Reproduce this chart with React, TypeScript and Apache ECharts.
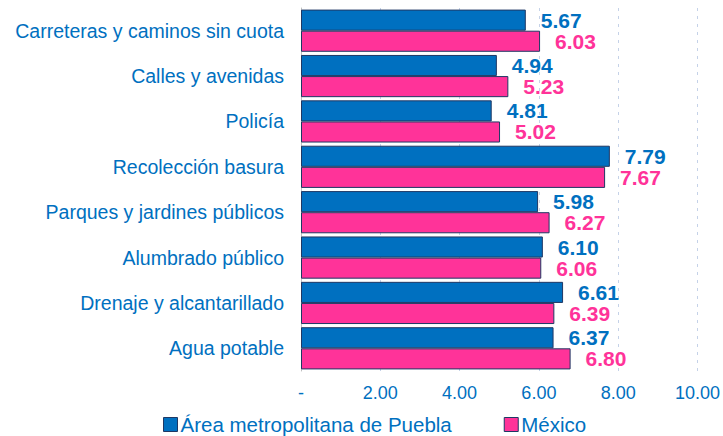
import React, { useEffect, useRef } from "react";
import * as echarts from "echarts";

const categories = [
  "Carreteras y caminos sin cuota",
  "Calles y avenidas",
  "Policía",
  "Recolección basura",
  "Parques y jardines públicos",
  "Alumbrado público",
  "Drenaje y alcantarillado",
  "Agua potable",
];
const pueblaValues = [5.67, 4.94, 4.81, 7.79, 5.98, 6.1, 6.61, 6.37];
const mexicoValues = [6.03, 5.23, 5.02, 7.67, 6.27, 6.06, 6.39, 6.8];
const seriesNames = ["Área metropolitana de Puebla", "México"];

const BLUE = "#0070C0";
const PINK = "#FF3399";
const BORDER = "#1F3864";
const FONT = "'Liberation Sans', Arial, sans-serif";

export default function App() {
  const ref = useRef<HTMLDivElement>(null);
  useEffect(() => {
    if (!ref.current) return;
    const chart = echarts.init(ref.current, undefined, { renderer: "svg" });
    const mkSeries = (name: string, data: number[], color: string) => ({
      name,
      type: "bar",
      data,
      barGap: "0%",
      barCategoryGap: "7%",
      itemStyle: { color, borderColor: BORDER, borderWidth: 1 },
      label: {
        show: true,
        position: "right",
        distance: 15,
        color,
        fontFamily: FONT,
        fontWeight: "bold",
        fontSize: 21,
        formatter: (p: any) => Number(p.value).toFixed(2),
      },
    });
    chart.setOption({
      animation: false,
      textStyle: { fontFamily: FONT },
      grid: { left: 301, right: 22, top: 8, bottom: 65, containLabel: false },
      legend: {
        top: 409,
        left: 158,
        itemWidth: 14,
        itemHeight: 14,
        itemGap: 52,
        icon: "rect",
        textStyle: { color: BLUE, fontSize: 20.5, fontFamily: FONT, padding: [0, 0, 0, -2] },
        data: seriesNames.map((n, i) => ({
          name: n,
          itemStyle: { color: i === 0 ? BLUE : PINK, borderColor: BORDER, borderWidth: 1 },
        })),
      },
      xAxis: {
        type: "value",
        min: 0,
        max: 10,
        interval: 2,
        axisLine: { show: false },
        axisTick: { show: false },
        splitLine: { show: true, lineStyle: { color: "#C5D2E8", type: [3, 5], width: 1 } },
        axisLabel: {
          color: BLUE,
          fontSize: 18,
          fontFamily: FONT,
          margin: 13,
          formatter: (v: number) => (v === 0 ? "-" : v.toFixed(2)),
        },
      },
      yAxis: {
        type: "category",
        inverse: true,
        data: categories,
        axisLine: { show: true, lineStyle: { color: "#BFBFBF" } },
        axisTick: { show: false },
        axisLabel: { color: BLUE, fontSize: 19.5, fontFamily: FONT, margin: 17 },
      },
      series: [mkSeries(seriesNames[0], pueblaValues, BLUE), mkSeries(seriesNames[1], mexicoValues, PINK)],
    });
    return () => chart.dispose();
  }, []);
  return <div ref={ref} style={{ width: 723, height: 436, position: "absolute", left: 0, top: 0 }} />;
}
